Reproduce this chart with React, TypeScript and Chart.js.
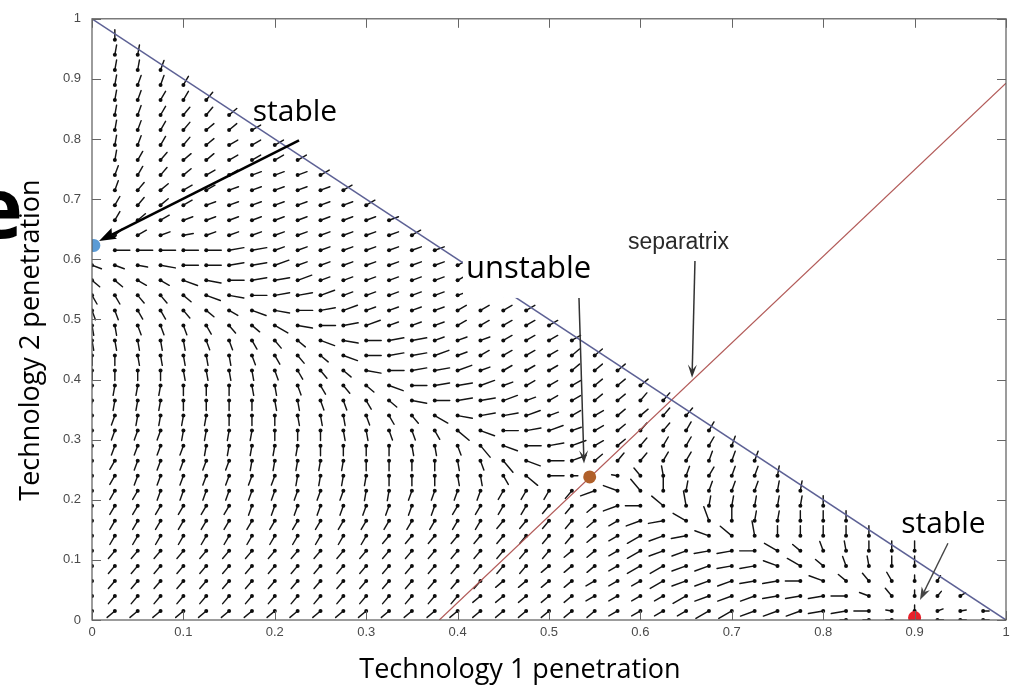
import React, { useEffect, useRef } from 'react';
import { Chart, registerables } from 'chart.js';

Chart.register(...registerables);

// ---------- axis data ----------
const X_TICKS = [0, 0.1, 0.2, 0.3, 0.4, 0.5, 0.6, 0.7, 0.8, 0.9, 1];
const X_TICK_LABELS = ['0', '0.1', '0.2', '0.3', '0.4', '0.5', '0.6', '0.7', '0.8', '0.9', '1'];
const Y_TICKS = [0, 0.1, 0.2, 0.3, 0.4, 0.5, 0.6, 0.7, 0.8, 0.9, 1];
const Y_TICK_LABELS = ['0', '0.1', '0.2', '0.3', '0.4', '0.5', '0.6', '0.7', '0.8', '0.9', '1'];
const X_TITLE = 'Technology 1 penetration';
const Y_TITLE = 'Technology 2 penetration';

// ---------- lines ----------
const BOUNDARY_X = [0, 1];
const BOUNDARY_Y = [1, 0];
const SEPARATRIX_X = [0.38, 1];
const SEPARATRIX_Y = [0, 0.893];

// ---------- fixed points ----------
const STABLE_TECH2 = { x: 0.002, y: 0.623 };
const UNSTABLE_POINT = { x: 0.5445, y: 0.238 };
const STABLE_TECH1 = { x: 0.9, y: 0.004 };

// ---------- annotation texts ----------
const LABEL_STABLE = 'stable';
const LABEL_UNSTABLE = 'unstable';
const LABEL_SEPARATRIX = 'separatrix';

// ---------- direction field ----------
const COL_X = [
  0, 0.025, 0.05, 0.075, 0.1, 0.125, 0.15, 0.175, 0.2, 0.225,
  0.25, 0.275, 0.3, 0.325, 0.35, 0.375, 0.4, 0.425, 0.45, 0.475,
  0.5, 0.525, 0.55, 0.575, 0.6, 0.625, 0.65, 0.675, 0.7, 0.725,
  0.75, 0.775, 0.8, 0.825, 0.85, 0.875, 0.9, 0.925, 0.95, 0.975,
];
const ROW_Y = [
  0, 0.015, 0.04, 0.065, 0.09, 0.115, 0.14, 0.165, 0.19, 0.215,
  0.24, 0.265, 0.29, 0.315, 0.34, 0.365, 0.39, 0.415, 0.44, 0.465,
  0.49, 0.515, 0.54, 0.565, 0.59, 0.615, 0.64, 0.665, 0.69, 0.715,
  0.74, 0.765, 0.79, 0.815, 0.84, 0.865, 0.89, 0.915, 0.94, 0.965,
];
// flow direction of each arrow: code index * 10 degrees ('.' = none)
const ANGLE_CODES = '0123456789abcdefghijklmnopqrstuvwxyz';
const FIELD_ROWS = [
  '.................................000.iii',
  '44444444444444444444444333333222110zrkji',
  '5555555555555555544444333332221110yvrnl',
  '55555555555555555544443333222110ywvuro',
  '555555555555555555554443332211yxwtsrr',
  '555555555555555555555443322110xwtsrrr',
  '66666666666665555555554332 1ywsrrrrr'.replace(' ', ''),
  '6666666666666666665555432 1xtrqqrrr'.replace(' ', ''),
  '666666677777777766665542 0wsqqqqqr'.replace(' ', ''),
  '66677777777788777766652yvrqpppqq',
  '667777777888899 9aaceii.zvspoppq'.replace(' ', ''),
  '667777788888999 9abdgikmnnooppp'.replace(' ', ''),
  '77777888889999aabdgijklmnooop',
  '77778888999aabbcegijkklmnnoo',
  '778888999aaabcdfhjjkkllmmnn',
  '88889999aabbcehijjkkllmmnn',
  '8888999aabcdegijjkklllmmm',
  '9999aaaabcdehijjkklllmmm',
  '99aaaaabcdegijjkkllllmm',
  'aaaaabbcdeghijjkkkllll',
  'aabbbcdefhijkkkklllll',
  'bbccdefghijkkkkkllll',
  'ccddeghijjkkkkkkkll',
  'eeffghijjkkkkkkkll',
  'gghhiijjkkkkkkkkl',
  '.iiiiijjkkkkkkkk',
  '.mlkjkkkkkkkkkl',
  '.omlkkkkkkkkkk',
  '.onmlkkkkkkkl',
  '.pnmllkkkkkl',
  '.ponmllkkkl',
  '.qonmmllll',
  '.qponmlll',
  '.qponmml',
  '.qponnm',
  '.qpoon',
  '.qppo',
  '.qqp',
  '.qq',
  '.r',
];
// [rowIndex, firstCol, lastCol] of longer / shorter arrows
const LONG_RUNS = [
  [25, 1, 7], [24, 3, 8], [23, 4, 9], [22, 5, 10], [21, 7, 11], [20, 8, 12],
  [19, 10, 14], [18, 11, 15], [17, 12, 16], [16, 13, 17], [15, 14, 18],
  [14, 15, 19], [13, 16, 20], [12, 17, 21], [11, 18, 21], [10, 19, 20],
  [1, 27, 34], [2, 26, 33], [3, 25, 32], [4, 24, 31], [5, 24, 30], [6, 24, 29],
  [7, 24, 28], [8, 23, 26], [9, 22, 25],
];
const SHORT_RUNS = [
  [0, 33, 39], [1, 35, 39], [2, 36, 38], [3, 36, 37], [10, 21, 21], [10, 23, 23],
];

const LEN_NORMAL = 10;
const LEN_LONG = 15;
const LEN_SHORT = 6;

function inRuns(runs: number[][], r: number, i: number) {
  return runs.some(([rr, a, b]) => rr === r && i >= a && i <= b);
}

function buildField() {
  const pts: { x: number; y: number; a: number; len: number }[] = [];
  FIELD_ROWS.forEach((row, r) => {
    for (let i = 0; i < row.length && i < COL_X.length; i++) {
      const k = ANGLE_CODES.indexOf(row[i]);
      if (k < 0) continue;
      let len = LEN_NORMAL;
      if (inRuns(LONG_RUNS, r, i)) len = LEN_LONG;
      if (inRuns(SHORT_RUNS, r, i)) len = LEN_SHORT;
      pts.push({ x: COL_X[i], y: ROW_Y[r], a: k * 10, len });
    }
  });
  return pts;
}

const TICK_FONT = '"Liberation Sans Narrow", "Liberation Sans", Arial, sans-serif';
const TEXT_FONT = '"Open Sans", "Noto Sans", sans-serif';

function drawArrow(
  ctx: CanvasRenderingContext2D, x1: number, y1: number, x2: number, y2: number,
  color: string, width: number, headLen: number, headW: number, notch: number,
) {
  const ang = Math.atan2(y2 - y1, x2 - x1);
  const bx = x2 - headLen * Math.cos(ang);
  const by = y2 - headLen * Math.sin(ang);
  const nx = x2 - headLen * notch * Math.cos(ang);
  const ny = y2 - headLen * notch * Math.sin(ang);
  ctx.strokeStyle = color;
  ctx.lineWidth = width;
  ctx.lineCap = 'butt';
  ctx.beginPath();
  ctx.moveTo(x1, y1);
  ctx.lineTo(nx, ny);
  ctx.stroke();
  ctx.fillStyle = color;
  ctx.beginPath();
  ctx.moveTo(x2, y2);
  ctx.lineTo(bx + (headW / 2) * Math.sin(ang), by - (headW / 2) * Math.cos(ang));
  ctx.lineTo(nx, ny);
  ctx.lineTo(bx - (headW / 2) * Math.sin(ang), by + (headW / 2) * Math.cos(ang));
  ctx.closePath();
  ctx.fill();
}

const quiverPlugin = {
  id: 'quiverTails',
  beforeDatasetsDraw(chart: any) {
    const { ctx, chartArea } = chart;
    const xs = chart.scales.x;
    const ys = chart.scales.y;
    const ds = chart.data.datasets.find((d: any) => d.label === 'field');
    if (!ds) return;
    ctx.save();
    ctx.beginPath();
    ctx.rect(chartArea.left, chartArea.top, chartArea.right - chartArea.left, chartArea.bottom - chartArea.top);
    ctx.clip();
    ctx.strokeStyle = '#141414';
    ctx.lineWidth = 1.45;
    ctx.lineCap = 'round';
    ctx.beginPath();
    ds.data.forEach((p: any) => {
      const hx = xs.getPixelForValue(p.x);
      const hy = ys.getPixelForValue(p.y);
      const rad = (p.a * Math.PI) / 180;
      ctx.moveTo(hx - p.len * Math.cos(rad), hy + p.len * Math.sin(rad));
      ctx.lineTo(hx, hy);
    });
    ctx.stroke();
    ctx.restore();
  },
};

const decorPlugin = {
  id: 'decor',
  afterDatasetsDraw(chart: any) {
    const { ctx, chartArea } = chart;
    const xs = chart.scales.x;
    const ys = chart.scales.y;
    const px = (v: number) => xs.getPixelForValue(v);
    const py = (v: number) => ys.getPixelForValue(v);
    const { left, right, top, bottom } = chartArea;
    ctx.save();

    // frame + inward ticks
    ctx.strokeStyle = '#5a5a5a';
    ctx.lineWidth = 1.2;
    ctx.strokeRect(left, top, right - left, bottom - top);
    ctx.lineWidth = 1;
    ctx.strokeStyle = '#666';
    ctx.beginPath();
    X_TICKS.forEach((v) => {
      const x = Math.round(px(v)) + 0.5;
      ctx.moveTo(x, bottom); ctx.lineTo(x, bottom - 9);
      ctx.moveTo(x, top); ctx.lineTo(x, top + 9);
    });
    Y_TICKS.forEach((v) => {
      const y = Math.round(py(v)) + 0.5;
      ctx.moveTo(left, y); ctx.lineTo(left + 9, y);
      ctx.moveTo(right, y); ctx.lineTo(right - 9, y);
    });
    ctx.stroke();

    // "unstable" white label box
    ctx.fillStyle = '#ffffff';
    const bx1 = px(0.4059), bx2 = px(0.5492), by1 = py(0.6153), by2 = py(0.5357);
    ctx.fillRect(bx1, by1, bx2 - bx1, by2 - by1);

    // annotation arrows
    drawArrow(ctx, px(0.2265), py(0.7977), px(0.0077), py(0.6302), '#000', 2.6, 17, 12, 0.85);
    drawArrow(ctx, px(0.5328), py(0.5357), px(0.5383), py(0.2604), '#333', 1.5, 13, 9, 0.6);
    drawArrow(ctx, px(0.6597), py(0.597), px(0.6565), py(0.403), '#333', 1.5, 13, 9, 0.6);
    drawArrow(ctx, px(0.9365), py(0.1277), px(0.9059), py(0.0332), '#444', 1.4, 13, 9, 0.7);

    // annotation texts
    ctx.fillStyle = '#000';
    ctx.textBaseline = 'alphabetic';
    ctx.textAlign = 'center';
    ctx.font = `30px ${TEXT_FONT}`;
    ctx.fillText(LABEL_STABLE, px(0.2221), py(0.8308));
    ctx.fillText(LABEL_STABLE, px(0.9316), py(0.1443));
    ctx.font = `31px ${TEXT_FONT}`;
    ctx.fillText(LABEL_UNSTABLE, px(0.4776), py(0.5688));
    ctx.fillStyle = '#2a2a2a';
    ctx.font = `23px "Liberation Sans", Arial, sans-serif`;
    ctx.fillText(LABEL_SEPARATRIX, px(0.6417), py(0.6169));

    // axis titles
    ctx.fillStyle = '#000';
    ctx.font = `27px ${TEXT_FONT}`;
    ctx.textAlign = 'center';
    ctx.fillText(X_TITLE, 520, 678);
    ctx.save();
    ctx.translate(39, 340);
    ctx.rotate(-Math.PI / 2);
    ctx.fillText(Y_TITLE, 0, 0);
    ctx.restore();

    // cropped slide heading letter at the left edge
    ctx.font = `bold 84px ${TEXT_FONT}`;
    ctx.textAlign = 'right';
    ctx.fillText('e', 23, 238);

    ctx.restore();
  },
};

export default function App() {
  const ref = useRef<HTMLCanvasElement>(null);
  useEffect(() => {
    const canvas = ref.current;
    if (!canvas) return;
    const field = buildField();
    const chart = new Chart(canvas, {
      type: 'scatter',
      data: {
        datasets: [
          { label: 'stable2', data: [STABLE_TECH2], pointRadius: 6.5, backgroundColor: '#5b9bd5', borderWidth: 0 } as any,
          { label: 'unstable', data: [UNSTABLE_POINT], pointRadius: 6.5, backgroundColor: '#b0602a', borderWidth: 0 } as any,
          { label: 'stable1', data: [STABLE_TECH1], pointRadius: 6.5, backgroundColor: '#e8202a', borderWidth: 0 } as any,
          {
            type: 'line', label: 'boundary',
            data: BOUNDARY_X.map((x, i) => ({ x, y: BOUNDARY_Y[i] })),
            borderColor: '#5d6195', borderWidth: 1.5, pointRadius: 0, fill: false,
          } as any,
          {
            type: 'line', label: 'separatrix',
            data: SEPARATRIX_X.map((x, i) => ({ x, y: SEPARATRIX_Y[i] })),
            borderColor: '#b25a58', borderWidth: 1.2, pointRadius: 0, fill: false,
          } as any,
          { label: 'field', data: field, pointRadius: 2, backgroundColor: '#0d0d0d', borderWidth: 0 } as any,
        ],
      },
      options: {
        responsive: false,
        devicePixelRatio: 1,
        animation: false,
        layout: { padding: { left: 0, right: 11, top: 17, bottom: 0 } },
        plugins: { legend: { display: false }, tooltip: { enabled: false } },
        scales: {
          x: {
            type: 'linear', min: 0, max: 1,
            afterBuildTicks: (axis: any) => { axis.ticks = X_TICKS.map((v) => ({ value: v })); },
            afterFit: (axis: any) => { axis.height = 67; },
            ticks: {
              callback: (_v: any, i: number) => X_TICK_LABELS[i],
              font: { family: TICK_FONT, size: 13 }, color: '#4a4a4a', padding: 5,
              maxRotation: 0, autoSkip: false,
            },
            grid: { display: false, drawTicks: false },
            border: { display: false },
          },
          y: {
            type: 'linear', min: 0, max: 1,
            afterBuildTicks: (axis: any) => { axis.ticks = Y_TICKS.map((v) => ({ value: v })); },
            afterFit: (axis: any) => { axis.width = 92; },
            ticks: {
              callback: (_v: any, i: number) => Y_TICK_LABELS[i],
              font: { family: TICK_FONT, size: 13 }, color: '#4a4a4a', padding: 11,
              autoSkip: false,
            },
            grid: { display: false, drawTicks: false },
            border: { display: false },
          },
        },
      } as any,
      plugins: [quiverPlugin, decorPlugin],
    });
    return () => chart.destroy();
  }, []);
  return (
    <div style={{ position: 'fixed', left: 0, top: 0, width: 1017, height: 687, background: '#fff' }}>
      <canvas ref={ref} width={1017} height={687} style={{ display: 'block' }} />
    </div>
  );
}
